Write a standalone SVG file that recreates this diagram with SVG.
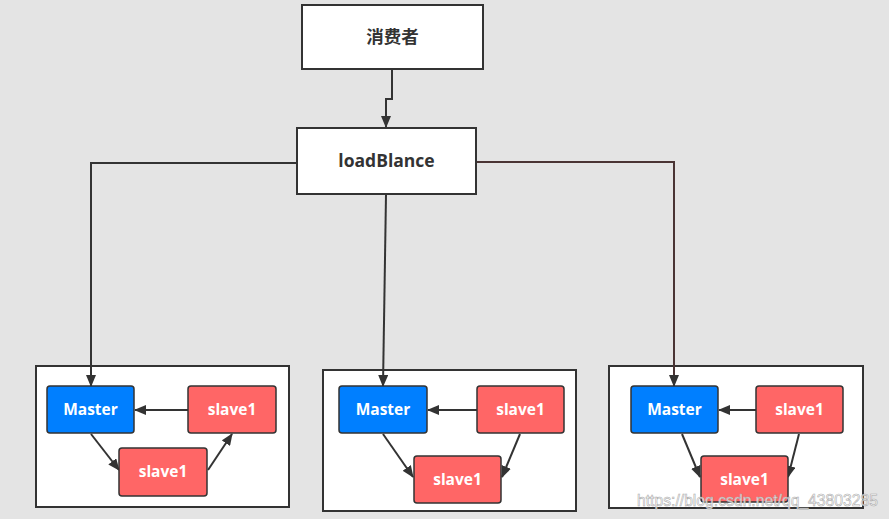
<svg xmlns="http://www.w3.org/2000/svg" width="889" height="519" viewBox="0 0 889 519">
<defs>
<marker id="ah" markerWidth="12" markerHeight="10" refX="11" refY="5" orient="auto" markerUnits="userSpaceOnUse">
<path d="M0,0 L12,5 L0,10 Z" fill="#333"/>
</marker>
<style>
.box{fill:#fff;stroke:#333;stroke-width:2}
.cont{fill:#fff;stroke:#333;stroke-width:2}
.m{fill:#007fff;stroke:#333;stroke-width:1.5}
.s{fill:#ff6666;stroke:#333;stroke-width:1.5}
.t{font-family:"Open Sans","Noto Sans CJK SC",sans-serif;font-weight:bold;font-size:17.5px;fill:#333;text-anchor:middle}
.w{font-family:"Open Sans","Noto Sans CJK SC",sans-serif;font-weight:bold;font-size:15.5px;fill:#fff;text-anchor:middle}
.c{fill:none;stroke:#333;stroke-width:2}
.a{fill:none;stroke:#333;stroke-width:2;marker-end:url(#ah)}
</style>
</defs>
<rect width="889" height="519" fill="#e4e4e4"/>

<g id="containers">
<rect class="cont" x="36" y="366" width="253" height="141"/>
<rect class="cont" x="323" y="370" width="253" height="141"/>
<rect class="cont" x="609" y="366" width="254" height="142"/>
</g>

<g id="connectors">
<path class="a" d="M392,69 V99 H386 V127"/>
<path class="a" d="M297,163 H91 V386"/>
<path class="a" d="M386,195 L383,386"/>
<path class="a" d="M476,162 H674 V386" style="stroke:#4a3434"/>
<path class="a" d="M188,410 H135"/>
<path class="a" d="M91,434 L119,470"/>
<path class="a" d="M208,470 L232,434"/>
<path class="a" d="M477,410 H428"/>
<path class="a" d="M383,434 L413,477"/>
<path class="a" d="M520,434 L502,477"/>
<path class="a" d="M756,410 H719"/>
<path class="a" d="M682,434 L700,477"/>
<path class="a" d="M799,434 L788,477"/>
</g>

<g id="consumer">
<rect class="box" x="302" y="5" width="181" height="64"/>
<text class="t" x="392.5" y="43">消费者</text>
</g>
<g id="loadBlance">
<rect class="box" x="297" y="128" width="179" height="66"/>
<text class="t" x="386.5" y="167">loadBlance</text>
</g>

<g id="master1"><rect class="m" x="47" y="386" width="87" height="47" rx="3"/><text class="w" x="90.5" y="415">Master</text></g>
<g id="slave1a"><rect class="s" x="188" y="386" width="88" height="47" rx="3"/><text class="w" x="232" y="415">slave1</text></g>
<g id="slave1b"><rect class="s" x="119" y="448" width="88" height="48" rx="3"/><text class="w" x="163" y="477">slave1</text></g>

<g id="master2"><rect class="m" x="339" y="386" width="88" height="47" rx="3"/><text class="w" x="383" y="415">Master</text></g>
<g id="slave2a"><rect class="s" x="477" y="386" width="87" height="47" rx="3"/><text class="w" x="520.5" y="415">slave1</text></g>
<g id="slave2b"><rect class="s" x="414" y="456" width="87" height="47" rx="3"/><text class="w" x="457.5" y="485">slave1</text></g>

<g id="master3"><rect class="m" x="631" y="386" width="87" height="47" rx="3"/><text class="w" x="674.5" y="415">Master</text></g>
<g id="slave3a"><rect class="s" x="756" y="386" width="87" height="47" rx="3"/><text class="w" x="799.5" y="415">slave1</text></g>
<g id="slave3b"><rect class="s" x="701" y="456" width="87" height="46" rx="3"/><text class="w" x="744.5" y="485">slave1</text></g>

<text x="637" y="506" textLength="241" lengthAdjust="spacingAndGlyphs" style="font-family:'Liberation Sans',Arial,sans-serif;font-size:17px;fill:#ffffff;fill-opacity:0.8;stroke:#aaaaaa;stroke-width:0.6">https://blog.csdn.net/qq_43803285</text>
</svg>
